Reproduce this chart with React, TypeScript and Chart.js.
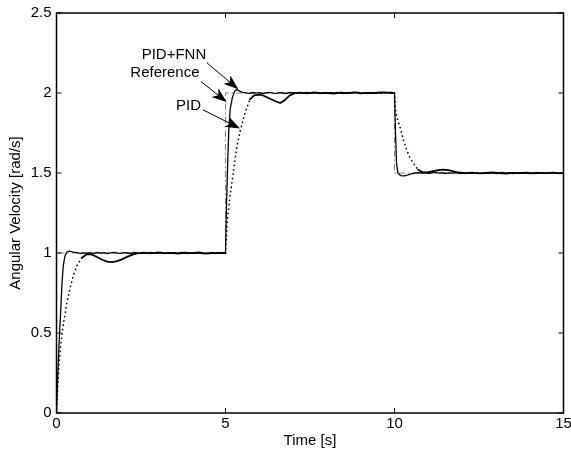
import React, { useEffect, useRef } from 'react';
import { Chart, registerables } from 'chart.js';

Chart.register(...registerables);

const FONT = '"Liberation Sans", Arial, Helvetica, sans-serif';

// PID+FNN response (solid)
const fnnTime = [
  0, 0.04, 0.08, 0.12, 0.16, 0.2, 0.25, 0.3, 0.38, 0.5, 0.6, 0.7, 0.8, 0.9,
  1.0, 1.1, 1.2, 1.3, 1.4, 1.5, 1.6, 1.7, 1.8, 1.9, 2.0, 2.1, 2.2, 2.3, 2.4, 2.5, 2.6, 2.7, 2.8, 2.9,
  3.0, 3.1, 3.2, 3.3, 3.4, 3.5, 3.6, 3.7, 3.8, 3.9, 4.0, 4.1, 4.2, 4.3, 4.4, 4.5, 4.6, 4.7, 4.8, 4.9, 5.0,
  5.03, 5.07, 5.1, 5.14, 5.2, 5.27, 5.33, 5.42, 5.5,
  5.6, 5.7, 5.8, 5.9, 6.0, 6.1, 6.2, 6.3, 6.4, 6.5, 6.6, 6.7, 6.8, 6.9, 7.0, 7.1, 7.2, 7.3, 7.4, 7.5,
  7.6, 7.7, 7.8, 7.9, 8.0, 8.1, 8.2, 8.3, 8.4, 8.5, 8.6, 8.7, 8.8, 8.9, 9.0, 9.1, 9.2, 9.3, 9.4, 9.5,
  9.6, 9.7, 9.8, 9.9, 10.0,
  10.03, 10.06, 10.1, 10.18, 10.3, 10.4, 10.5,
  10.6, 10.7, 10.8, 10.9, 11.0, 11.1, 11.2, 11.3, 11.4, 11.5, 11.6, 11.7, 11.8, 11.9, 12.0, 12.1, 12.2,
  12.3, 12.4, 12.5, 12.6, 12.7, 12.8, 12.9, 13.0, 13.1, 13.2, 13.3, 13.4, 13.5, 13.6, 13.7, 13.8, 13.9,
  14.0, 14.1, 14.2, 14.3, 14.4, 14.5, 14.6, 14.7, 14.8, 14.9, 15.0,
];
const fnnVel = [
  0, 0.25, 0.45, 0.62, 0.8, 0.92, 0.98, 1.005, 1.012, 1.006, 1.002, 0.998, 1.001, 0.999,
  1.001, 0.998, 1.003, 0.999, 1.002, 0.997, 1.001, 1.004, 0.999, 0.998, 1.002, 1.0, 0.997, 1.003, 1.001, 0.998, 1.002, 0.999, 1.004, 0.998,
  1.0, 1.003, 0.997, 1.001, 0.999, 1.002, 0.998, 1.003, 1.0, 0.997, 1.002, 0.999, 1.001, 0.996, 0.998, 0.995, 0.999, 0.997, 1.002, 0.999, 1.0,
  1.3, 1.6, 1.78, 1.9, 1.97, 2.01, 2.022, 2.012, 2.004,
  2.001, 1.998, 2.003, 1.999, 2.002, 1.997, 2.001, 2.004, 1.999, 1.998, 2.002, 2.0, 1.997, 2.003, 2.001, 1.998, 2.002, 1.999, 2.004, 1.998,
  2.001, 2.003, 1.997, 2.001, 1.999, 2.002, 1.998, 2.004, 2.0, 1.997, 2.002, 1.999, 2.003, 2.005, 1.998, 2.001, 1.997, 2.002, 1.999, 2.003,
  2.0, 2.004, 2.001, 2.003, 2.001,
  1.75, 1.56, 1.5, 1.484, 1.482, 1.488, 1.495,
  1.499, 1.502, 1.5, 1.503, 1.498, 1.501, 1.504, 1.499, 1.502, 1.497, 1.501, 1.499, 1.503, 1.498, 1.5, 1.497, 1.501,
  1.498, 1.502, 1.499, 1.496, 1.5, 1.498, 1.502, 1.497, 1.5, 1.503, 1.498, 1.501, 1.497, 1.499, 1.502, 1.498, 1.501,
  1.497, 1.5, 1.503, 1.499, 1.501, 1.498, 1.502, 1.499, 1.501, 1.498, 1.5,
];

// PID response (dotted)
const pidTime = [
  0, 0.03, 0.06, 0.1, 0.15, 0.2, 0.3, 0.4, 0.5, 0.6, 0.75, 0.9, 1.05, 1.2, 1.35, 1.5, 1.65, 1.8, 1.95, 2.1, 2.25, 2.4,
  2.6, 2.8, 3.0, 3.2, 3.4, 3.6, 3.8, 4.0, 4.2, 4.4, 4.6, 4.8, 5.0,
  5.05, 5.13, 5.23, 5.33, 5.43, 5.58, 5.72, 5.85, 6.0, 6.1, 6.3, 6.5, 6.62, 6.75, 6.9, 7.05,
  7.2, 7.4, 7.6, 7.8, 8.0, 8.2, 8.4, 8.6, 8.8, 9.0, 9.2, 9.4, 9.6, 9.8, 10.0,
  10.03, 10.07, 10.16, 10.26, 10.36, 10.46, 10.56, 10.7, 10.85, 11.0, 11.15, 11.3, 11.45, 11.6, 11.75, 11.9,
  12.1, 12.3, 12.5, 12.7, 12.9, 13.1, 13.3, 13.5, 13.7, 13.9, 14.1, 14.3, 14.5, 14.7, 14.9, 15.0,
];
const pidVel = [
  0, 0.14, 0.26, 0.37, 0.47, 0.55, 0.68, 0.78, 0.86, 0.92, 0.97, 0.993, 0.99, 0.975, 0.958, 0.946, 0.943, 0.949, 0.962, 0.977, 0.99, 0.997,
  1.002, 0.998, 1.003, 0.999, 1.001, 0.997, 1.002, 0.999, 1.003, 0.998, 1.001, 0.999, 1.0,
  1.19, 1.35, 1.5, 1.66, 1.76, 1.875, 1.96, 1.985, 1.99, 1.986, 1.966, 1.947, 1.937, 1.955, 1.985, 1.999,
  2.002, 1.998, 2.003, 1.999, 2.001, 1.997, 2.002, 1.999, 2.004, 1.998, 2.001, 1.999, 2.003, 2.002, 2.0,
  1.89, 1.85, 1.79, 1.71, 1.645, 1.595, 1.56, 1.52, 1.503, 1.505, 1.512, 1.518, 1.521, 1.518, 1.51, 1.503,
  1.499, 1.502, 1.498, 1.501, 1.503, 1.499, 1.497, 1.501, 1.499, 1.502, 1.498, 1.501, 1.499, 1.502, 1.498, 1.5,
];

// Reference step signal
const refTime = [0, 0, 5, 10, 15];
const refVel = [0, 1, 2, 1.5, 1.5];

const xTicks = [0, 5, 10, 15];
const yTicks = [0, 0.5, 1, 1.5, 2, 2.5];

// Text annotations with arrows (data coordinates)
const annotations = [
  { text: 'PID+FNN', tx: 4.43, ty: 2.238, fx: 4.444, fy: 2.19, ex: 5.379, ey: 2.023 },
  { text: 'Reference', tx: 4.231, ty: 2.128, fx: 4.275, fy: 2.072, ex: 5.035, ey: 1.944 },
  { text: 'PID', tx: 4.275, ty: 1.919, fx: 4.334, fy: 1.895, ex: 5.429, ey: 1.778 },
];

const toPoints = (t: number[], v: number[]) => t.map((x, i) => ({ x, y: v[i] }));

// slow-changing (noisy) parts of the dotted trace merge into a thick line
const slowSegment = (ctx: any) => {
  const dx = ctx.p1.parsed.x - ctx.p0.parsed.x;
  const dy = ctx.p1.parsed.y - ctx.p0.parsed.y;
  return dx > 0 && Math.abs(dy / dx) < 0.25;
};

const framePlugin = {
  id: 'matlabFrame',
  afterDatasetsDraw(chart: any) {
    const { ctx, chartArea } = chart;
    const { left, right, top, bottom } = chartArea;
    const xs = chart.scales.x;
    const ys = chart.scales.y;
    ctx.save();
    ctx.strokeStyle = '#000';
    ctx.lineWidth = 1;
    const tl = 5;
    ctx.beginPath();
    xTicks.forEach((v) => {
      const p = xs.getPixelForValue(v);
      ctx.moveTo(p, bottom);
      ctx.lineTo(p, bottom - tl);
      ctx.moveTo(p, top);
      ctx.lineTo(p, top + tl);
    });
    yTicks.forEach((v) => {
      const p = ys.getPixelForValue(v);
      ctx.moveTo(left, p);
      ctx.lineTo(left + tl, p);
      ctx.moveTo(right, p);
      ctx.lineTo(right - tl, p);
    });
    ctx.stroke();
    ctx.lineWidth = 1.5;
    ctx.strokeRect(left, top, right - left, bottom - top);

    ctx.font = `15px ${FONT}`;
    ctx.fillStyle = '#000';
    ctx.textAlign = 'right';
    ctx.textBaseline = 'middle';
    annotations.forEach((a) => {
      ctx.fillText(a.text, xs.getPixelForValue(a.tx), ys.getPixelForValue(a.ty));
      const x0 = xs.getPixelForValue(a.fx);
      const y0 = ys.getPixelForValue(a.fy);
      const x1 = xs.getPixelForValue(a.ex);
      const y1 = ys.getPixelForValue(a.ey);
      const len = Math.hypot(x1 - x0, y1 - y0);
      const ux = (x1 - x0) / len;
      const uy = (y1 - y0) / len;
      const nx = -uy;
      const ny = ux;
      const L = 15;
      const W = 5.5;
      ctx.lineWidth = 1;
      ctx.beginPath();
      ctx.moveTo(x0, y0);
      ctx.lineTo(x1 - ux * 10, y1 - uy * 10);
      ctx.stroke();
      ctx.beginPath();
      ctx.moveTo(x1, y1);
      ctx.lineTo(x1 - ux * L + nx * W, y1 - uy * L + ny * W);
      ctx.lineTo(x1 - ux * L * 0.72, y1 - uy * L * 0.72);
      ctx.lineTo(x1 - ux * L - nx * W, y1 - uy * L - ny * W);
      ctx.closePath();
      ctx.fill();
    });
    ctx.restore();
  },
};

export default function App() {
  const canvasRef = useRef<HTMLCanvasElement | null>(null);

  useEffect(() => {
    if (!canvasRef.current) return;
    Chart.defaults.font.family = FONT;
    const chart = new Chart(canvasRef.current, {
      type: 'line',
      data: {
        datasets: [
          {
            label: 'PID+FNN',
            data: toPoints(fnnTime, fnnVel),
            borderColor: '#000',
            borderWidth: 1.3,
            pointRadius: 0,
            tension: 0,
          },
          {
            label: 'PID',
            data: toPoints(pidTime, pidVel),
            borderColor: '#000',
            borderWidth: 1.7,
            borderDash: [0.1, 4.3],
            borderCapStyle: 'round',
            pointRadius: 0,
            tension: 0,
            segment: {
              borderDash: (ctx: any) => (slowSegment(ctx) ? [] : undefined),
              borderWidth: (ctx: any) => (slowSegment(ctx) ? 1.8 : undefined),
            },
          },
          {
            label: 'Reference',
            data: toPoints(refTime, refVel),
            borderColor: '#808080',
            borderWidth: 1,
            borderDash: [6, 3, 1.5, 3],
            stepped: 'before',
            pointRadius: 0,
          },
        ],
      },
      options: {
        animation: false,
        responsive: false,
        events: [],
        layout: { padding: { top: 13, right: 7.5, left: 0, bottom: 0 } },
        plugins: { legend: { display: false }, tooltip: { enabled: false } },
        scales: {
          x: {
            type: 'linear',
            min: 0,
            max: 15,
            afterBuildTicks: (s: any) => {
              s.ticks = xTicks.map((value) => ({ value }));
            },
            afterFit: (s: any) => {
              s.height = 42;
              s.paddingLeft = 0;
              s.paddingRight = 0;
            },
            grid: { display: false, drawTicks: false },
            border: { display: false },
            ticks: {
              color: '#000',
              font: { size: 15, family: FONT },
              padding: 2,
              maxRotation: 0,
              callback: (v: any) => `${+v}`,
            },
            title: {
              display: true,
              text: 'Time [s]',
              color: '#000',
              font: { size: 15, family: FONT },
              padding: { top: 0, bottom: 5 },
            },
          },
          y: {
            type: 'linear',
            min: 0,
            max: 2.5,
            afterBuildTicks: (s: any) => {
              s.ticks = yTicks.map((value) => ({ value }));
            },
            afterFit: (s: any) => {
              s.width = 56.5;
              s.paddingTop = 0;
              s.paddingBottom = 0;
            },
            grid: { display: false, drawTicks: false },
            border: { display: false },
            ticks: {
              color: '#000',
              font: { size: 15, family: FONT },
              padding: 5,
              callback: (v: any) => `${+v}`,
            },
            title: {
              display: true,
              text: 'Angular Velocity [rad/s]',
              color: '#000',
              font: { size: 15, family: FONT },
              padding: { top: 6.5, bottom: 0 },
            },
          },
        },
      },
      plugins: [framePlugin],
    } as any);
    return () => chart.destroy();
  }, []);

  return (
    <div style={{ position: 'absolute', left: 0, top: 0, width: 571, height: 455, background: '#fff' }}>
      <canvas ref={canvasRef} width={571} height={455} style={{ display: 'block' }} />
    </div>
  );
}
